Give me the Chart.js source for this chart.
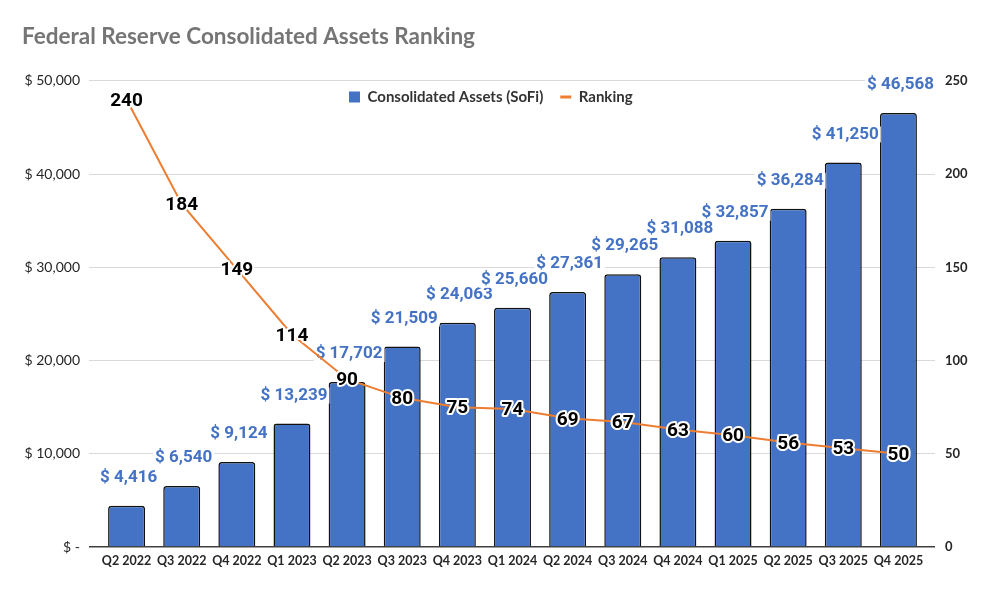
<!DOCTYPE html>
<html>
<head>
<meta charset="utf-8">
<title>Federal Reserve Consolidated Assets Ranking</title>
<script src="https://cdn.jsdelivr.net/npm/chart.js@4.4.1/dist/chart.umd.min.js"></script>
<style>
  html, body { margin: 0; padding: 0; background: #fff; }
  #wrap { width: 994px; height: 605px; }
</style>
</head>
<body>
<div id="wrap"><canvas id="assetsChart"></canvas></div>
<script>
// ===== data =====
const quarters = ['Q2 2022', 'Q3 2022', 'Q4 2022', 'Q1 2023', 'Q2 2023', 'Q3 2023', 'Q4 2023', 'Q1 2024',
                  'Q2 2024', 'Q3 2024', 'Q4 2024', 'Q1 2025', 'Q2 2025', 'Q3 2025', 'Q4 2025'];
const assets = [4416, 6540, 9124, 13239, 17702, 21509, 24063, 25660, 27361, 29265, 31088, 32857, 36284, 41250, 46568];
const ranking = [240, 184, 149, 114, 90, 80, 75, 74, 69, 67, 63, 60, 56, 53, 50];
const assetTicks = [0, 10000, 20000, 30000, 40000, 50000];
const rankTicks = [0, 50, 100, 150, 200, 250];

const BLUE = '#4472C4';
const ORANGE = '#ED7D31';
const GRID = '#d9d9d9';

function money(v) {
  return v === 0 ? '$ -' : '$ ' + v.toLocaleString('en-US');
}

function gridColor(ctx) {
  return ctx.tick && ctx.tick.value === 0 ? '#404040' : GRID;
}

// labels above the bars (white box behind, drawn before the line)
const barLabels = {
  id: 'barLabels',
  afterDatasetDraw(chart, args) {
    if (args.index !== 0) return;
    const ctx = chart.ctx;
    ctx.save();
    ctx.font = 'bold 17px Roboto';
    ctx.textAlign = 'center';
    ctx.textBaseline = 'middle';
    args.meta.data.forEach((bar, i) => {
      const txt = money(assets[i]);
      const w = ctx.measureText(txt).width;
      const x = bar.x + 2;
      const y = bar.y - 28;
      ctx.fillStyle = '#fff';
      ctx.fillRect(x - w / 2 - 2, y - 8, w + 4, 16);
      ctx.fillStyle = BLUE;
      ctx.fillText(txt, x, y);
    });
    ctx.restore();
  }
};

// ranking numbers on the line points, white outline
const rankLabels = {
  id: 'rankLabels',
  afterDatasetsDraw(chart) {
    const meta = chart.getDatasetMeta(1);
    const ctx = chart.ctx;
    ctx.save();
    ctx.font = 'bold 19px Roboto';
    ctx.textAlign = 'center';
    ctx.textBaseline = 'middle';
    ctx.lineJoin = 'round';
    ctx.lineWidth = 4;
    ctx.strokeStyle = '#fff';
    ctx.fillStyle = '#000';
    meta.data.forEach((pt, i) => {
      const txt = String(ranking[i]);
      ctx.strokeText(txt, pt.x, pt.y + 1.5);
      ctx.fillText(txt, pt.x, pt.y + 1.5);
    });
    ctx.restore();
  }
};

// legend sits inside the plot area, under the top gridline
const legendSpot = {
  id: 'legendSpot',
  afterLayout(chart) {
    const lg = chart.legend;
    if (!lg) return;
    const pad = lg.options.labels.padding;
    lg.left = 349 - pad;
    lg.right = 994;
    lg.width = lg.right - lg.left;
    lg.top = 97 - pad - 7.5;
    lg.bottom = lg.top + 45;
    lg.height = 45;
  }
};

new Chart(document.getElementById('assetsChart'), {
  data: {
    labels: quarters,
    datasets: [
      {
        type: 'bar',
        label: 'Consolidated Assets (SoFi)',
        data: assets,
        yAxisID: 'y',
        order: 1,
        backgroundColor: BLUE,
        borderColor: '#111',
        borderWidth: 1.5,
        borderRadius: 3,
        barPercentage: 0.67,
        categoryPercentage: 1,
        pointStyle: 'rect'
      },
      {
        type: 'line',
        label: 'Ranking',
        data: ranking,
        yAxisID: 'y1',
        order: 0,
        borderColor: ORANGE,
        backgroundColor: ORANGE,
        borderWidth: 2,
        pointRadius: 0,
        tension: 0,
        pointStyle: 'line'
      }
    ]
  },
  options: {
    responsive: true,
    maintainAspectRatio: false,
    animation: false,
    layout: { padding: { left: 22, right: 0, top: 0, bottom: 0 } },
    plugins: {
      title: {
        display: true,
        text: 'Federal Reserve Consolidated Assets Ranking',
        align: 'start',
        color: '#757575',
        font: { family: 'Lato', size: 22.5, weight: 'bold', lineHeight: 1.2 },
        padding: { top: 23.4, bottom: 29.5 }
      },
      legend: {
        align: 'start',
        maxHeight: 1,
        labels: {
          usePointStyle: true,
          pointStyleWidth: 11,
          boxHeight: 11,
          padding: 17,
          color: '#333',
          font: { family: 'Lato', size: 15, weight: 'bold' },
          sort: (a, b) => a.datasetIndex - b.datasetIndex,
          generateLabels(chart) {
            const items = Chart.defaults.plugins.legend.labels.generateLabels(chart);
            items.forEach(it => {
              if (it.datasetIndex === 0) { it.lineWidth = 0; }
              else { it.lineWidth = 3; }
            });
            return items;
          }
        }
      },
      tooltip: { enabled: false }
    },
    scales: {
      x: {
        grid: { display: false, drawTicks: false },
        border: { display: false },
        ticks: {
          color: '#262626',
          font: { family: 'Lato', size: 12.5, weight: 'bold' },
          padding: 6,
          maxRotation: 0,
          autoSkip: false
        },
        afterFit: s => { s.height = 58; }
      },
      y: {
        position: 'left',
        min: 0,
        max: 50000,
        afterBuildTicks: s => { s.ticks = assetTicks.map(v => ({ value: v })); },
        grid: { color: gridColor, lineWidth: c => (c.tick && c.tick.value === 0 ? 1.5 : 1), tickLength: 10 },
        border: { display: false },
        ticks: {
          color: '#262626',
          padding: 9,
          font: { family: 'Lato', size: 14 },
          callback: v => money(v)
        },
        afterFit: s => { s.width = 77; }
      },
      y1: {
        position: 'right',
        min: 0,
        max: 250,
        afterBuildTicks: s => { s.ticks = rankTicks.map(v => ({ value: v })); },
        grid: { drawOnChartArea: false, color: gridColor, lineWidth: c => (c.tick && c.tick.value === 0 ? 1.5 : 1), tickLength: 9 },
        border: { display: false },
        ticks: {
          color: '#262626',
          padding: 10,
          font: { family: 'Lato', size: 13, weight: 'bold' }
        },
        afterFit: s => { s.width = 68; }
      }
    }
  },
  plugins: [barLabels, rankLabels, legendSpot]
});
</script>
</body>
</html>
